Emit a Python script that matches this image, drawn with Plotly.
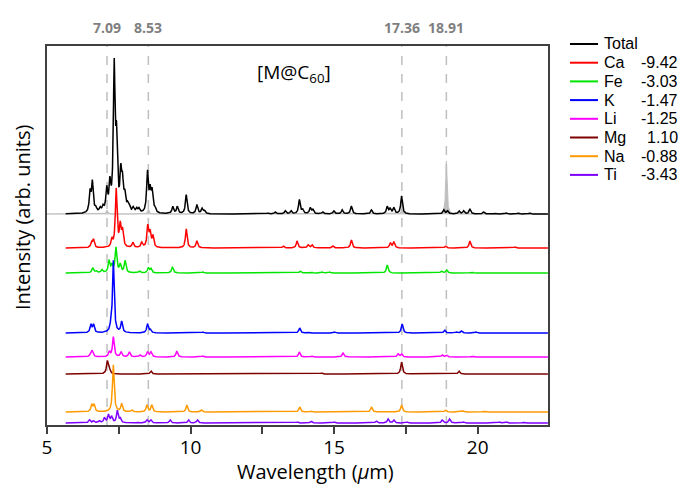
import numpy as np
import plotly.graph_objects as go

# ---------------- data ----------------
# peak lists: (wavelength in um, peak height in arb. units)
total_peaks = [(6.50, 20), (6.58, 30), (6.70, 4), (6.85, 4), (6.95, 5), (7.08, 22), (7.19, 26),
               (7.34, 142), (7.42, 66), (7.57, 36), (7.63, 26), (7.71, 15), (7.80, 6), (7.86, 5),
               (8.00, 5), (8.12, 4), (8.20, 4), (8.50, 40), (8.59, 20), (8.66, 20), (8.76, 4),
               (9.38, 7), (9.54, 7), (9.85, 19), (10.22, 9), (10.40, 5), (10.48, 3),
               (12.70, 1), (12.95, 2), (13.30, 3), (13.50, 3), (13.79, 14), (13.90, 4), (14.17, 6),
               (14.26, 4), (14.60, 2), (14.99, 3), (15.28, 4), (15.60, 8), (16.30, 4), (16.85, 7),
               (16.95, 5), (17.08, 6), (17.35, 18), (18.82, 4), (18.95, 3), (19.35, 3), (19.51, 3),
               (19.73, 5), (20.21, 2), (20.60, 1), (21.00, 1), (21.40, 1), (21.80, 1)]
c60_peaks = [(7.09, 4), (8.53, 5), (17.36, 5), (18.91, 53)]
ca_peaks = [(6.55, 5), (6.62, 8), (7.26, 7), (7.41, 58), (7.55, 21), (7.63, 16), (7.99, 5),
            (8.30, 5), (8.51, 21), (8.59, 14), (8.69, 11), (9.85, 19), (10.22, 7), (13.23, 2),
            (13.71, 7), (14.10, 3), (14.23, 3), (14.96, 2), (15.60, 8), (16.96, 5), (17.08, 6),
            (18.88, 2), (19.73, 7), (21.30, 1)]
fe_peaks = [(6.59, 5), (6.71, 2), (6.91, 3), (7.16, 12), (7.26, 7), (7.40, 25), (7.55, 8),
            (7.72, 12), (8.22, 2), (8.53, 5), (8.62, 4), (9.37, 6), (10.43, 1), (13.82, 2),
            (14.20, 1), (14.58, 1), (14.85, 1), (16.85, 8), (18.74, 2), (18.92, 3), (19.81, 1)]
k_peaks = [(6.53, 8), (6.62, 8), (7.22, 4), (7.31, 72), (7.60, 11), (8.50, 9), (8.60, 3),
           (10.43, 1), (13.80, 5), (14.06, 1), (15.02, 1), (17.37, 9), (18.85, 3), (19.27, 1),
           (19.44, 2), (19.95, 1)]
li_peaks = [(6.53, 4), (6.58, 5), (7.17, 5), (7.31, 20), (7.58, 5), (7.87, 5), (8.24, 2),
            (8.50, 5), (8.62, 5), (9.52, 6), (10.42, 1), (13.79, 5), (14.23, 1), (15.31, 4),
            (17.23, 3), (17.35, 3), (18.77, 2), (18.91, 2), (19.81, 1)]
mg_peaks = [(7.10, 12), (7.16, 6), (8.62, 3), (14.56, 1), (17.35, 12), (19.35, 3)]
na_peaks = [(6.56, 7), (6.64, 7), (7.31, 47), (7.60, 8), (7.95, 2), (8.48, 7), (8.65, 7),
            (9.87, 7), (10.38, 2), (13.80, 5), (14.20, 1), (16.30, 5), (17.35, 7), (18.88, 2),
            (19.40, 1), (19.50, 1), (20.22, 1)]
ti_peaks = [(6.48, 3), (6.62, 2), (6.82, 2), (7.00, 5), (7.14, 8), (7.25, 6), (7.45, 12),
            (7.55, 4), (8.15, 1), (8.48, 3), (8.62, 3), (9.29, 3), (9.93, 3), (10.24, 3),
            (13.72, 1), (14.20, 2), (15.00, 1), (16.47, 2), (16.88, 4), (17.08, 3), (17.55, 1),
            (18.77, 3), (19.02, 4), (19.51, 1), (20.74, 1), (21.00, 1), (21.60, 1)]

series_names = ["Ca", "Fe", "K", "Li", "Mg", "Na", "Ti"]
series_peaks = [ca_peaks, fe_peaks, k_peaks, li_peaks, mg_peaks, na_peaks, ti_peaks]
series_energy = [-9.42, -3.03, -1.47, -1.25, 1.10, -0.88, -3.43]
marker_wavelengths = [7.09, 8.53, 17.36, 18.91]

# ---------------- layout / style ----------------
offsets = {"Total": 211, "Ca": 177, "Fe": 152, "K": 92, "Li": 68, "Mg": 51, "Na": 13, "Ti": 2}
colors = {"Total": "#000000", "Ca": "#FF0000", "Fe": "#00E600", "K": "#0000FF",
          "Li": "#FF00FF", "Mg": "#7F0000", "Na": "#FF9900", "Ti": "#7F00FF"}
X0, X1 = 5.0, 22.45
FONT = "Open Sans"
LFONT = "Liberation Sans"
grid = np.arange(5.65, X1, 0.004)
GAMMA = 0.035


def spectrum(peaks, gamma=GAMMA):
    y = np.zeros_like(grid)
    for c, h in peaks:
        y += h * gamma ** 2 / ((grid - c) ** 2 + gamma ** 2)
    return y


fig = go.Figure()

# C60 reference (grey filled) under the total spectrum
fig.add_trace(go.Scatter(x=[X0, X1], y=[offsets["Total"]] * 2, mode="lines",
                         line=dict(color="#D0D0D0", width=1), hoverinfo="skip", showlegend=False))
gx = np.arange(X0, X1, 0.004)
gy = np.zeros_like(gx)
for c, h in c60_peaks:
    gy += h * 0.028 ** 2 / ((gx - c) ** 2 + 0.028 ** 2)
fig.add_trace(go.Scatter(x=gx, y=gy + offsets["Total"], mode="lines", fill="tonexty",
                         fillcolor="#BFBFBF", line=dict(color="#BFBFBF", width=1),
                         showlegend=False))

fig.add_trace(go.Scatter(x=grid, y=spectrum(total_peaks) + offsets["Total"], mode="lines",
                         line=dict(color=colors["Total"], width=1.5), name="Total", showlegend=False))
for name, peaks in zip(series_names, series_peaks):
    fig.add_trace(go.Scatter(x=grid, y=spectrum(peaks) + offsets[name], mode="lines",
                             line=dict(color=colors[name], width=1.5), name=name, showlegend=False))

# dashed marker lines + labels
for w in marker_wavelengths:
    fig.add_shape(type="line", x0=w, x1=w, y0=0, y1=1, xref="x", yref="paper",
                  line=dict(color="#BFBFBF", width=1.5, dash="dash"), layer="below")
    fig.add_annotation(x=w, y=1.05, xref="x", yref="paper", text=f"<b>{w:.2f}</b>",
                       showarrow=False, font=dict(family=FONT, size=14, color="#7F7F7F"),
                       xanchor="center", yanchor="middle")

# manual legend
PLOT_L, PLOT_W, PLOT_B, PLOT_H = 47, 501, 425, 379
legend_names = ["Total"] + series_names
legend_vals = [None] + series_energy
for i, (name, val) in enumerate(zip(legend_names, legend_vals)):
    ypx = 44 + i * 18.7
    yp = (PLOT_B - ypx) / PLOT_H
    fig.add_shape(type="line", x0=(570 - PLOT_L) / PLOT_W, x1=(598 - PLOT_L) / PLOT_W,
                  y0=yp, y1=yp, xref="paper", yref="paper",
                  line=dict(color=colors[name], width=2))
    fig.add_annotation(x=(603 - PLOT_L) / PLOT_W, y=yp, xref="paper", yref="paper",
                       text=name, showarrow=False, xanchor="left", yanchor="middle",
                       borderpad=0, font=dict(family=LFONT, size=16, color="#000000"))
    if val is not None:
        fig.add_annotation(x=(679 - PLOT_L) / PLOT_W, y=yp, xref="paper", yref="paper",
                           text=f"{val:.2f}", showarrow=False, xanchor="right", yanchor="middle",
                           borderpad=0, font=dict(family=LFONT, size=16, color="#000000"))

# in-plot label and axis titles
fig.add_annotation(x=(294 - PLOT_L) / PLOT_W, y=(PLOT_B - 73) / PLOT_H, xref="paper", yref="paper",
                   text="[M@C<sub>60</sub>]", showarrow=False, xanchor="center", yanchor="middle",
                   font=dict(family=FONT, size=19, color="#000000"))
fig.add_annotation(x=(315 - PLOT_L) / PLOT_W, y=(PLOT_B - 471) / PLOT_H, xref="paper", yref="paper",
                   text="Wavelength (<i>µ</i>m)", showarrow=False, xanchor="center", yanchor="middle",
                   font=dict(family=FONT, size=20, color="#000000"))
fig.add_annotation(x=(22 - PLOT_L) / PLOT_W, y=(PLOT_B - 217) / PLOT_H, xref="paper", yref="paper",
                   text="Intensity (arb. units)", showarrow=False, textangle=-90,
                   xanchor="center", yanchor="middle",
                   font=dict(family=FONT, size=20, color="#000000"))

fig.update_layout(
    template="none",
    width=692, height=485,
    margin=dict(l=47, r=144, t=46, b=60),
    paper_bgcolor="white", plot_bgcolor="white",
    showlegend=False,
    xaxis=dict(range=[X0, X1], dtick=5, tick0=0, ticks="outside", ticklen=7, tickwidth=1.5,
               tickcolor="#404040", showgrid=False, zeroline=False, automargin=False,
               showline=True, linecolor="#404040", linewidth=2, mirror=True,
               ticklabelstandoff=-3,
               tickfont=dict(family=FONT, size=19, color="#000000"),
               minor=dict(dtick=2.5, tick0=0, ticks="outside", ticklen=7, tickwidth=1.5,
                          tickcolor="#404040", showgrid=False)),
    yaxis=dict(range=[0, PLOT_H], showticklabels=False, ticks="", showgrid=False, zeroline=False,
               automargin=False,
               showline=True, linecolor="#404040", linewidth=2, mirror=True),
)

fig.write_html("out.html", config={"displayModeBar": False},
               post_script="document.body.style.margin='0px';document.body.style.overflow='hidden';")
